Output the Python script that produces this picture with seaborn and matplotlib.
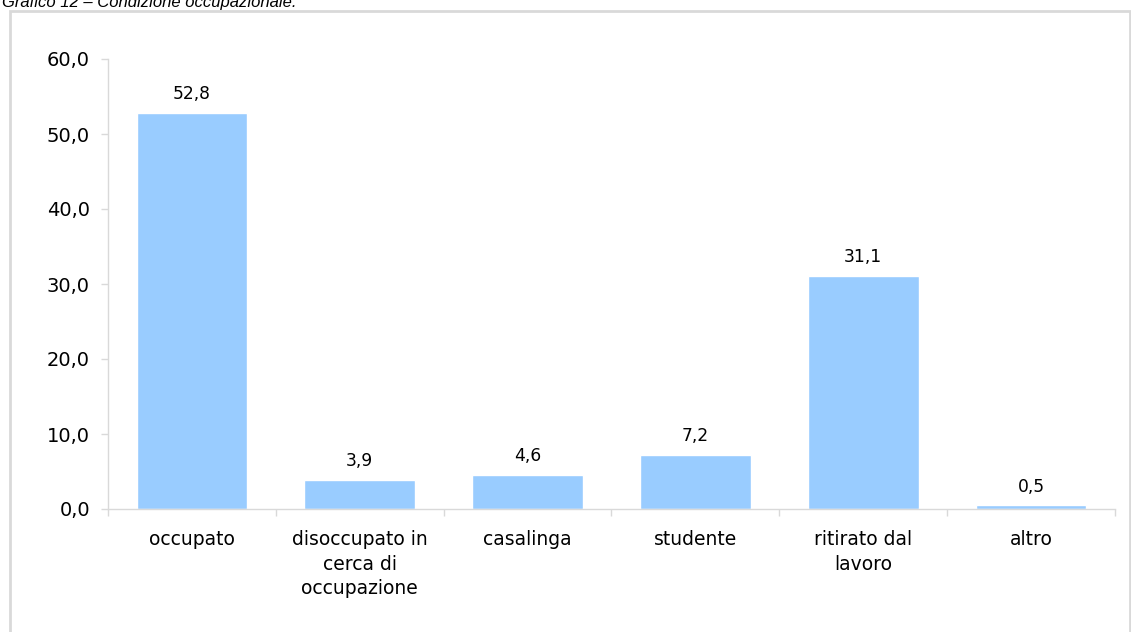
import matplotlib
matplotlib.use("Agg")
import matplotlib.pyplot as plt
import seaborn as sns
import pandas as pd
from matplotlib.patches import Rectangle
from matplotlib.ticker import FixedLocator, FuncFormatter

categories = ["occupato", "disoccupato in\ncerca di\noccupazione", "casalinga",
              "studente", "ritirato dal\nlavoro", "altro"]
values = [52.8, 3.9, 4.6, 7.2, 31.1, 0.5]
yticks = [0, 10, 20, 30, 40, 50, 60]
title = "Grafico 12 \u2013 Condizione occupazionale."

sns.set_theme(style="white")
plt.rcParams['font.family'] = ['DejaVu Sans']

W, H = 1131, 632
fig = plt.figure(figsize=(W / 100, H / 100), dpi=100)
ax = fig.add_axes([108 / W, 1 - 509 / H, (1115 - 108) / W, (509 - 59) / H])

df = pd.DataFrame({"cat": categories, "val": values})
sns.barplot(data=df, x="cat", y="val", color="#99CCFF", saturation=1,
            width=0.66, ax=ax)

ax.set_xlim(-0.5, len(categories) - 0.5)
ax.set_ylim(0, 60)
ax.set_xlabel("")
ax.set_ylabel("")

ax.yaxis.set_major_locator(FixedLocator(yticks))
ax.yaxis.set_major_formatter(FuncFormatter(lambda v, p: f"{v:.1f}".replace(".", ",")))
ax.tick_params(axis="y", labelsize=14, length=5, width=1, color="#d9d9d9",
               left=True, pad=8, labelcolor="black")

ax.set_xticks(range(len(categories)))
ax.set_xticklabels(categories, fontsize=13.5, linespacing=1.38)
ax.tick_params(axis="x", length=0, pad=15, labelcolor="black")
ax.set_xticks([i + 0.5 for i in range(-1, len(categories))], minor=True)
ax.tick_params(axis="x", which="minor", length=5, width=1, color="#d9d9d9", bottom=True)

for s in ["top", "right"]:
    ax.spines[s].set_visible(False)
for s in ["left", "bottom"]:
    ax.spines[s].set_color("#d9d9d9")
    ax.spines[s].set_linewidth(1)

for i, v in enumerate(values):
    ax.annotate(f"{v:.1f}".replace(".", ","), (i, v), xytext=(0, 7),
                textcoords="offset points", ha="center", va="bottom",
                fontsize=12.3, color="black")

# outer frame
fig.patches.append(Rectangle((9.5 / W, -0.05), (1129.5 - 9.5) / W, 1 - 10.5 / H + 0.05,
                             transform=fig.transFigure, fill=False,
                             edgecolor="#d9d9d9", linewidth=2))

fig.text(2 / W, 1 - 7 / H, title, fontsize=12, style="italic",
         family=["Liberation Sans"], color="black", va="baseline", ha="left")

fig.savefig("out.png", dpi=100)
